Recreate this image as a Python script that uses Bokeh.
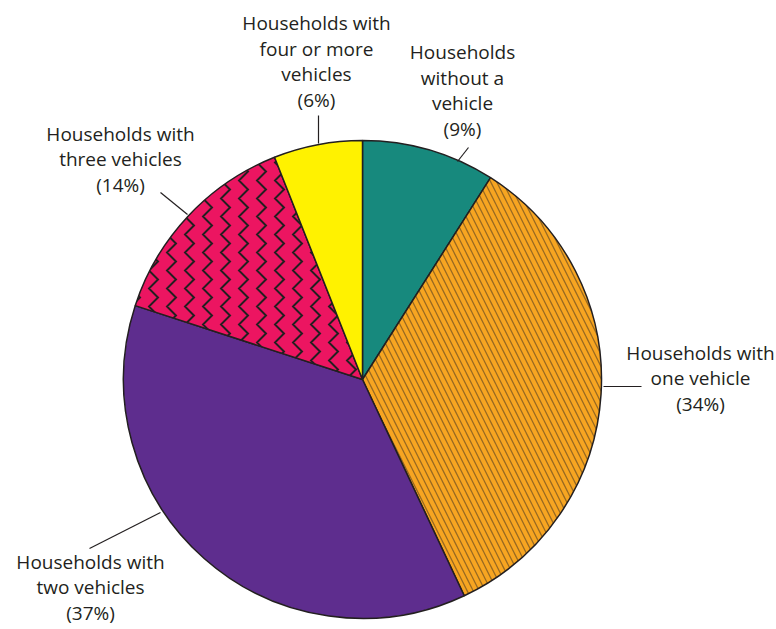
import math
from bokeh.plotting import figure
from bokeh.models import Range1d
from bokeh.core.properties import value
from bokeh.embed import file_html
from bokeh.resources import INLINE

# ---- data ----
categories = ["Households without a vehicle", "Households with one vehicle",
              "Households with two vehicles", "Households with three vehicles",
              "Households with four or more vehicles"]
shares = [9, 34, 37, 14, 6]
labels = ["Households\nwithout a\nvehicle\n(9%)",
          "Households with\none vehicle\n(34%)",
          "Households with\ntwo vehicles\n(37%)",
          "Households with\nthree vehicles\n(14%)",
          "Households with\nfour or more\nvehicles\n(6%)"]

# ---- styles / layout ----
colors = ["#17897d", "#f7a521", "#5e2d8e", "#ec1561", "#fff200"]
hatches = [" ", "left_diagonal_line", " ", "vertical_wave", " "]
hatch_scales = [8, 12, 8, 18, 8]
hatch_weights = [1, 1.3, 1, 2, 1]
hatch_alphas = [1, 0.45, 1, 1, 1]
INK = "#231f20"

W, H = 776, 629
def Y(ys):  # screen y -> data y
    return 629 - ys

cx, cy, R = 362, Y(379), 239

label_pos = [(462, 90), (700, 378), (90, 587), (120, 159), (316, 61)]
leaders = [((468, 147), (457, 161)), ((603, 386), (641, 386)),
           ((89, 548), (160, 512)), ((160, 192), (187, 214)),
           ((318, 115), (318, 143))]

p = figure(width=W, height=H, output_backend="svg", toolbar_location=None,
           x_range=Range1d(0, W), y_range=Range1d(629 - H, 629),
           min_border=0)
p.axis.visible = False
p.grid.visible = False
p.outline_line_color = None
p.background_fill_color = "white"

total = sum(shares)
cum = 0
for i, s in enumerate(shares):
    a0 = math.pi / 2 - 2 * math.pi * cum / total
    cum += s
    a1 = math.pi / 2 - 2 * math.pi * cum / total
    kw = {}
    if hatches[i].strip():
        kw = dict(hatch_pattern=hatches[i], hatch_scale=hatch_scales[i],
                  hatch_weight=hatch_weights[i], hatch_color=INK,
                  hatch_alpha=hatch_alphas[i])
    p.wedge(x=cx, y=cy, radius=R, radius_units="data",
            start_angle=a0, end_angle=a1, direction="clock",
            fill_color=colors[i], line_color=INK, line_width=1.5, **kw)

for (x0, y0), (x1, y1) in leaders:
    p.line([x0, x1], [Y(y0), Y(y1)], line_color=INK, line_width=1.2)

p.text(x=[lp[0] for lp in label_pos], y=[Y(lp[1]) for lp in label_pos],
       text=labels, text_align="center", text_baseline="middle",
       text_font=value("Open Sans"), text_font_size="19px",
       text_color=INK, text_line_height=0.98)

open("out.html", "w").write(file_html(p, INLINE))
